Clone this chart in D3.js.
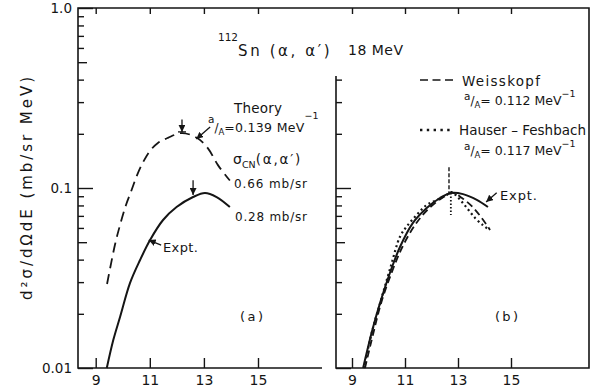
<!DOCTYPE html>
<html><head><meta charset="utf-8">
<script src="https://cdn.jsdelivr.net/npm/d3@7/dist/d3.min.js"></script>
<style>
html,body{margin:0;padding:0;background:#fff;}
svg{display:block;font-family:"DejaVu Sans",sans-serif;}
</style></head><body>
<svg id="c" width="596" height="390"></svg>
<script>
// ---------------- data ----------------
const energyTicks = [9, 11, 13, 15];
const yLabelTicks = [0.01, 0.1, 1];
const yLabelText = ["0.01", "0.1", "1.0"];
const yMinorTicks = [0.02,0.03,0.04,0.06,0.07,0.08,0.09,0.2,0.3,0.4,0.6,0.7,0.8,0.9];
const yMidTicks = [0.05, 0.5];

// panel (a): Weisskopf theory, a/A = 0.139 MeV^-1  [E (MeV), d2sigma/dOmega dE (mb/sr MeV)]
const theoryA = [[9.42,0.0293],[9.71,0.0482],[9.90,0.0623],[10.12,0.0805],[10.30,0.095],[10.53,0.118],
  [10.75,0.139],[11.01,0.161],[11.30,0.178],[11.67,0.190],[12.19,0.202],[12.74,0.190],[13.15,0.166],
  [13.52,0.134],[13.96,0.110]];
// panel (a): experiment
const exptA = [[9.41,0.0100],[9.65,0.0143],[9.90,0.0192],[10.27,0.0297],[10.64,0.0398],[11.01,0.0514],
  [11.49,0.0664],[11.99,0.0784],[12.60,0.0891],[13.04,0.0938],[13.47,0.0891],[13.96,0.0784]];
// panel (b): experiment
const exptB = [[9.42,0.0100],[9.74,0.0157],[10.06,0.0230],[10.43,0.0337],[10.81,0.0470],[11.30,0.0640],
  [11.82,0.0774],[12.32,0.0880],[12.76,0.0940],[13.19,0.0925],[13.71,0.0860],[14.13,0.0784]];
// panel (b): Weisskopf, a/A = 0.112
const weissB = [[9.49,0.0100],[9.80,0.0155],[10.10,0.0230],[10.50,0.0340],[10.90,0.0470],[11.40,0.0630],
  [11.90,0.0770],[12.40,0.0880],[12.80,0.0940],[13.15,0.0880],[13.53,0.0790],[13.90,0.0680],[14.21,0.0585]];
// panel (b): Hauser-Feshbach, a/A = 0.117
const hauserB = [[9.45,0.0100],[9.75,0.0158],[10.10,0.0240],[10.47,0.0370],[10.81,0.0536],[11.06,0.0610],
  [11.44,0.0708],[11.82,0.0805],[12.20,0.0858],[12.57,0.0914],[12.75,0.0950],[13.05,0.0870],[13.35,0.0770],
  [13.65,0.0680],[13.95,0.0620],[14.15,0.0590]];

// peak markers / annotation anchors (data units)
const peakTheoryA = [12.19, 0.24, 0.205];
const peakExptA = [12.60, 0.1105, 0.0915];
const peakWeissB = [12.66, 0.1305, 0.0938];
const peakHauserB = [12.73, 0.0938, 0.0708];

// ---------------- layout ----------------
const svg = d3.select("#c");
const X0 = 78, X1 = 589, Y0 = 8, Y1 = 368, XB = 336, XAend = 322, YBtop = 76;
const xA = d3.scaleLinear().domain([9, 15]).range([95.7, 258]);
const xB = d3.scaleLinear().domain([9, 15]).range([352, 511]);
const y = d3.scaleLog().domain([0.01, 1]).range([Y1, Y0]);
const ink = "#151515";

svg.append("defs").append("marker").attr("id","arr")
  .attr("markerUnits","userSpaceOnUse").attr("markerWidth",8).attr("markerHeight",7)
  .attr("refX",7).attr("refY",3.5).attr("orient","auto")
  .append("path").attr("d","M0,0 L7,3.5 L0,7 Z").attr("fill",ink);

// frame
svg.append("path").attr("d",`M${XAend},${Y1} H${X0} V${Y0} H${X1} V${Y1} H${XB} V${YBtop}`)
  .attr("fill","none").attr("stroke",ink).attr("stroke-width",1.6);

function styleAxis(g){
  g.select(".domain").remove();
  g.selectAll("line").attr("stroke",ink).attr("stroke-width",1.4);
  g.selectAll("text").attr("fill",ink).attr("font-size",14).attr("font-family","DejaVu Sans");
}
// x axes bottom + top
[xA, xB].forEach(sc=>{
  svg.append("g").attr("transform",`translate(0,${Y1})`)
    .call(d3.axisBottom(sc).tickValues(energyTicks).tickSizeInner(-10).tickSizeOuter(0).tickPadding(7).tickFormat(d3.format("d")))
    .call(styleAxis);
  svg.append("g").attr("transform",`translate(0,${Y0})`)
    .call(d3.axisTop(sc).tickValues(energyTicks).tickSizeInner(-6).tickSizeOuter(0).tickFormat(""))
    .call(styleAxis);
});
// y axes
const allY = yLabelTicks.concat(yMidTicks, yMinorTicks);
function yTickLen(d){ return yLabelTicks.includes(d) ? 15 : (yMidTicks.includes(d) ? 9 : 6); }
function yAxis(x, vals, labels){
  const g = svg.append("g").attr("transform",`translate(${x},0)`)
    .call(d3.axisLeft(y).tickValues(vals).tickSizeInner(-6).tickSizeOuter(0).tickPadding(6)
      .tickFormat(d => { if(!labels) return ""; const i = yLabelTicks.indexOf(d); return i>=0 ? yLabelText[i] : ""; }))
    .call(styleAxis);
  g.selectAll(".tick line").attr("x2", d => yTickLen(d));
  g.selectAll(".tick text").attr("font-size",13.5);
}
yAxis(X0, allY, true);
yAxis(XB, allY.filter(v => y(v) >= YBtop + 2 && v < 0.5), false);

// curves
const lineA = d3.line().x(d=>xA(d[0])).y(d=>y(d[1])).curve(d3.curveCatmullRom.alpha(0.5));
const lineB = d3.line().x(d=>xB(d[0])).y(d=>y(d[1])).curve(d3.curveCatmullRom.alpha(0.5));
svg.append("path").attr("d",lineA(theoryA)).attr("fill","none").attr("stroke",ink).attr("stroke-width",1.8).attr("stroke-dasharray","10,6");
svg.append("path").attr("d",lineA(exptA)).attr("fill","none").attr("stroke",ink).attr("stroke-width",2);
svg.append("path").attr("d",lineB(exptB)).attr("fill","none").attr("stroke",ink).attr("stroke-width",2);
svg.append("path").attr("d",lineB(weissB)).attr("fill","none").attr("stroke",ink).attr("stroke-width",1.8).attr("stroke-dasharray","7,4");
svg.append("path").attr("d",lineB(hauserB)).attr("fill","none").attr("stroke",ink).attr("stroke-width",2.2).attr("stroke-dasharray","2,3");

// peak markers
function arrowLine(x1,y1,x2,y2,opts){
  const l = svg.append("line").attr("x1",x1).attr("y1",y1).attr("x2",x2).attr("y2",y2)
    .attr("stroke",ink).attr("stroke-width",(opts&&opts.w)||1.3);
  if(!opts || opts.head!==false) l.attr("marker-end","url(#arr)");
  if(opts && opts.dash) l.attr("stroke-dasharray",opts.dash);
  return l;
}
arrowLine(xA(peakTheoryA[0]), y(peakTheoryA[1]), xA(peakTheoryA[0]), y(peakTheoryA[2]));
arrowLine(xA(peakTheoryA[0])-4, y(peakTheoryA[2]), xA(peakTheoryA[0])+4, y(peakTheoryA[2]), {head:false});
arrowLine(xA(peakExptA[0]), y(peakExptA[1]), xA(peakExptA[0]), y(peakExptA[2]));
arrowLine(xB(peakWeissB[0]), y(peakWeissB[1]), xB(peakWeissB[0]), y(peakWeissB[2]), {head:false, dash:"4,2", w:1.4});
arrowLine(xB(peakHauserB[0]), y(peakHauserB[1]), xB(peakHauserB[0]), y(peakHauserB[2]), {head:false, dash:"1.5,2", w:1.8});

// annotation pointers
arrowLine(xA(13.23), y(0.218), xA(12.72), y(0.187));
arrowLine(xA(11.42), y(0.0482), xA(10.96), y(0.0514));
arrowLine(xB(14.46), y(0.094), xB(14.06), y(0.0837));

// text helpers
function txt(x, yy, s, size, len, extra){
  const t = svg.append("text").attr("x",x).attr("y",yy).text(s).attr("font-size",size).attr("fill",ink);
  if(len){ t.attr("textLength",len).attr("lengthAdjust","spacing"); }
  if(extra) extra(t);
  return t;
}
// rich text: parts = [{t, fs, shift, dx, ls}]
function rich(x, yy, parts){
  const t = svg.append("text").attr("x",x).attr("y",yy).attr("fill",ink);
  let prev = 0;
  parts.forEach(p=>{
    const sh = p.shift||0;
    const ts = t.append("tspan").text(p.t).attr("font-size",p.fs).attr("dy",sh-prev);
    if(p.dx) ts.attr("dx",p.dx);
    if(p.ls) ts.attr("letter-spacing",p.ls);
    prev = sh;
  });
  return t;
}
function aOverA(x, yy, value, aShift, supShift, ls){
  return rich(x, yy, [
    {t:"a", fs:10.5, shift:aShift},
    {t:"/", fs:12, shift:0},
    {t:"A", fs:8.5, shift:3},
    {t:value, fs:12.5, shift:0, ls:ls},
    {t:"−1", fs:9.5, shift:supShift}
  ]);
}

// title
rich(218, 56, [{t:"112", fs:10.5, shift:-15},{t:"Sn (α, α′)", fs:15, shift:0, ls:2.6}]);
txt(348, 55, "18 MeV", 14, 55);

// y-axis label
txt(0, 0, "d²σ/dΩdE   (mb/sr MeV)", 15, 223, t => t.attr("text-anchor","middle").attr("transform","translate(32,188.5) rotate(-90)"));

// panel (a) texts
txt(234, 113, "Theory", 13.5, 48);
aOverA(208, 132, "=0.139 MeV", -9, -13, 0.3);
rich(233, 164, [{t:"σ", fs:14, shift:0},{t:"CN", fs:9.5, shift:4},{t:"(α,α′)", fs:13.5, shift:0, ls:1.8}]);
txt(234, 188, "0.66 mb/sr", 12, 73);
txt(235, 221, "0.28 mb/sr", 12, 72);
txt(163, 252, "Expt.", 13, 35);
txt(240, 321, "(a)", 13, 23);

// panel (b) legend & texts
const legDash = [420, 453], legY1 = 80, legY2 = 130;
svg.append("line").attr("x1",legDash[0]).attr("x2",legDash[1]).attr("y1",legY1).attr("y2",legY1)
  .attr("stroke",ink).attr("stroke-width",1.6).attr("stroke-dasharray","8,4.5");
svg.append("line").attr("x1",legDash[0]).attr("x2",legDash[1]).attr("y1",legY2).attr("y2",legY2)
  .attr("stroke",ink).attr("stroke-width",2.4).attr("stroke-dasharray","2.4,4.4");
txt(462, 86, "Weisskopf", 13.5, 78);
aOverA(464, 105, "= 0.112 MeV", -5, -8, 0);
txt(459, 135, "Hauser – Feshbach", 13.5, 127);
aOverA(464, 155, "= 0.117 MeV", -5, -8, 0);
txt(500, 200, "Expt.", 13, 37);
txt(495, 321, "(b)", 13, 23);
</script>
</body></html>
